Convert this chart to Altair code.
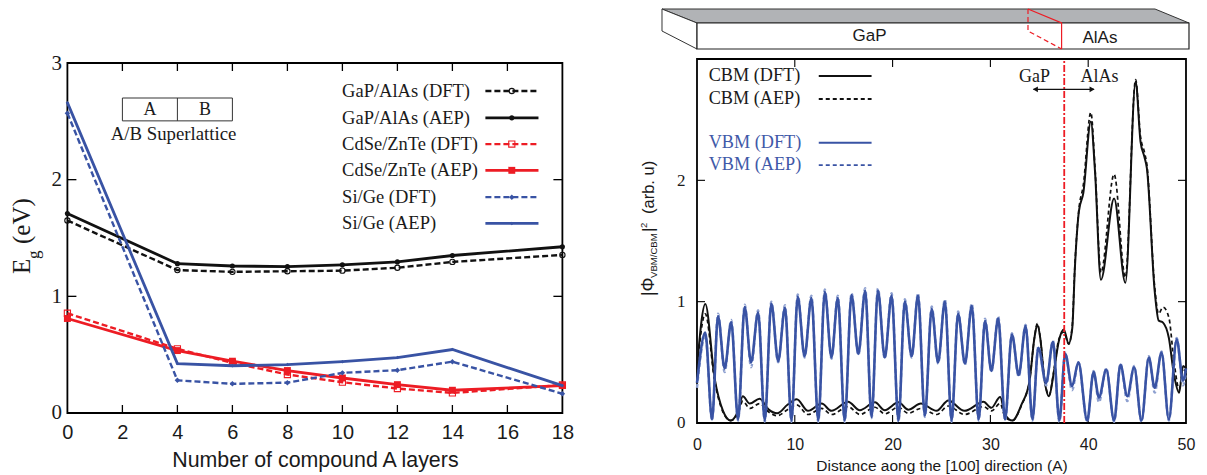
import altair as alt
import pandas as pd

# ---------- left panel data ----------
layers = [0, 4, 6, 8, 10, 12, 14, 18]
gap_dft = [1.65, 1.225, 1.21, 1.215, 1.22, 1.245, 1.295, 1.355]
gap_aep = [1.71, 1.28, 1.26, 1.255, 1.27, 1.295, 1.35, 1.425]
cd_dft = [0.855, 0.55, 0.43, 0.33, 0.264, 0.21, 0.172, 0.24]
cd_aep = [0.81, 0.535, 0.444, 0.364, 0.30, 0.243, 0.195, 0.235]
si_dft = [2.57, 0.28, 0.25, 0.26, 0.344, 0.367, 0.44, 0.165]
si_aep = [2.66, 0.424, 0.405, 0.415, 0.44, 0.475, 0.544, 0.235]

BLACK, RED, BLUE = "#111111", "#ed1c24", "#3953a4"
series_names = ["GaP/AlAs (DFT)", "GaP/AlAs (AEP)", "CdSe/ZnTe (DFT)", "CdSe/ZnTe (AEP)", "Si/Ge (DFT)", "Si/Ge (AEP)"]
series_vals = [gap_dft, gap_aep, cd_dft, cd_aep, si_dft, si_aep]
series_cols = [BLACK, BLACK, RED, RED, BLUE, BLUE]
series_dash = [True, False, True, False, True, False]
series_shape = ["circle", "circle", "square", "square", "diamond", "diamond"]
series_fill = [False, True, False, True, True, True]
series_size = [28, 26, 38, 48, 30, 12]
legend_y = [2.76, 2.53, 2.305, 2.08, 1.85, 1.625]

# ---------- right panel data ----------
vbm_x = [0, 0.85, 1.54, 2.15, 2.83, 3.5, 4.2, 4.88, 5.53, 6.25, 6.93, 7.6, 8.3, 9, 9.66, 10.3, 11, 11.7, 12.4, 13.07,
         13.75, 14.4, 15.1, 15.8, 16.5, 17.2, 17.85, 18.5, 19.2, 19.9, 20.6, 21.25, 21.95, 22.6, 23.3, 24, 24.65, 25.35,
         26.03, 26.7, 27.4, 28.1, 28.8, 29.45, 30.1, 30.8, 31.5, 32.2, 32.9, 33.6, 34.3, 34.9, 35.7, 36.4, 37.05, 37.65,
         38.35, 39.0, 39.9, 40.55, 41.1, 41.85, 42.65, 43.3, 44, 44.7, 45.45, 46.2, 46.8, 47.5, 48.25, 49.05, 49.7, 50]
vbm_dft = [0.33, 0.745, 0.03, 0.88, 0.45, 0.83, 0.03, 0.955, 0.5, 0.91, 0.02, 0.985, 0.51, 0.95, 0.02, 1.04, 0.55, 1.03, 0.02, 1.08,
           0.54, 1.03, 0.02, 1.055, 0.57, 1.09, 0.05, 1.09, 0.54, 1.05, 0.02, 1.0, 0.55, 1.05, 0.06, 0.94, 0.5, 1.0,
           0.02, 0.9, 0.49, 0.965, 0.03, 0.84, 0.43, 0.86, 0.03, 0.73, 0.395, 0.8, 0.03, 0.62, 0.33, 0.67, 0.02, 0.57,
           0.305, 0.5, 0.02, 0.42, 0.21, 0.44, 0.02, 0.48, 0.22, 0.46, 0.02, 0.54, 0.29, 0.58, 0.03, 0.69, 0.35, 0.45]
vbm_aep = [0.29, 0.72, 0.02, 0.9, 0.42, 0.85, 0.02, 0.975, 0.46, 0.93, 0.01, 1.0, 0.5, 0.97, 0.01, 1.06, 0.54, 1.05, 0.01, 1.1,
           0.53, 1.05, 0.01, 1.07, 0.56, 1.11, 0.04, 1.11, 0.53, 1.07, 0.01, 1.02, 0.54, 1.07, 0.05, 0.96, 0.49, 1.02,
           0.01, 0.92, 0.48, 0.985, 0.02, 0.86, 0.42, 0.88, 0.02, 0.74, 0.38, 0.81, 0.02, 0.63, 0.31, 0.68, 0.01, 0.58,
           0.27, 0.5, 0.01, 0.43, 0.17, 0.45, 0.01, 0.49, 0.18, 0.47, 0.01, 0.55, 0.25, 0.59, 0.02, 0.7, 0.31, 0.42]

cbm_x = [0, 0.85, 1.8, 2.66, 3.45, 4.2, 4.68, 5.4, 6.4, 7.34, 8.2, 9.25, 10.2, 11.35, 12.75, 13.75, 15.45, 16.65, 18.2, 19.2,
         20.6, 21.6, 22.9, 24.5, 25.7, 27.35, 29.3, 30.1, 31, 31.5, 32.25, 33.2, 34, 34.5, 34.8, 35.1, 35.5, 36, 36.45, 37,
         37.5, 38, 38.37, 38.64, 39.05, 39.5, 40.27, 40.7, 41.3, 42.65, 43.8, 44.85, 45.35, 45.76, 46, 46.8, 47.2, 47.65,
         48.25, 48.77, 49.3, 49.7, 50]
cbm_dft = [0.456, 0.98, 0.37, 0.1, 0.02, 0.1, 0.22, 0.16, 0.2, 0.11, 0.08, 0.15, 0.195, 0.1, 0.16, 0.1, 0.175, 0.105, 0.17, 0.105,
           0.17, 0.11, 0.16, 0.1, 0.185, 0.1, 0.175, 0.125, 0.215, 0.07, 0.02, 0.155, 0.345, 0.7, 0.81, 0.7, 0.375, 0.22, 0.4, 0.675,
           0.77, 0.655, 0.78, 1.28, 1.745, 1.895, 2.485, 2.07, 1.18, 1.85, 1.155, 2.815, 2.32, 2.19, 2.1, 1.086, 0.845, 0.827,
           0.70, 0.4, 0.25, 0.47, 0.45]
cbm_aep = [0.44, 0.9, 0.35, 0.09, 0.02, 0.08, 0.18, 0.12, 0.16, 0.09, 0.06, 0.11, 0.15, 0.07, 0.12, 0.07, 0.135, 0.07, 0.13, 0.075,
           0.13, 0.08, 0.12, 0.07, 0.14, 0.07, 0.135, 0.1, 0.16, 0.05, 0.02, 0.15, 0.35, 0.7, 0.82, 0.7, 0.38, 0.23, 0.41, 0.69,
           0.75, 0.65, 0.8, 1.3, 1.76, 1.96, 2.56, 2.1, 1.24, 2.05, 1.2, 2.83, 2.36, 2.23, 2.13, 1.12, 0.9, 0.955,
           0.87, 0.51, 0.28, 0.44, 0.42]

# ---------- slab (banner) ----------
side_x = [661, 696, 696, 661, 661]
side_y = [8, 22, 48, 30, 8]
top_x = [661, 1154, 1188, 696, 661]
top_y = [8, 8, 22, 22, 8]
front_x, front_x2, front_y, front_y2 = 696, 1188, 22, 48
red_solid_x = [1027, 1060.6, 1060.6]
red_solid_y = [8, 22, 48]
red_dash_x = [1027, 1027, 1060.6]
red_dash_y = [8, 30, 48]

SERIF = "Liberation Serif"
SANS = "Liberation Sans"
TXT = "#1a1a1a"

LW, LH = 495, 350
RW, RH = 489, 364


def df1(**k):
    return pd.DataFrame(k)


# ================ LEFT ================
lx = alt.Scale(domain=[0, 18], nice=False)
ly = alt.Scale(domain=[0, 3], nice=False)
lax = alt.Axis(values=list(range(0, 19, 2)), format="d", domain=False, ticks=False, grid=False, labelFlush=False,
               labelFont=SANS, labelFontSize=20, labelColor=TXT, labelPadding=10,
               title="Number of compound A layers", titleFont=SANS, titleFontSize=21.4,
               titleFontWeight="normal", titleColor=TXT, titlePadding=7)
lay = alt.Axis(values=[0, 1, 2, 3], format="d", domain=False, ticks=False, grid=False, labelFlush=False,
               labelFont=SERIF, labelFontSize=21, labelColor=TXT, labelPadding=6, title=None)
LX = alt.X("x:Q", scale=lx, axis=lax)
LY = alt.Y("y:Q", scale=ly, axis=lay)
enc_l = dict(x=LX, y=LY)
left_layers = []

# inward ticks
xticks_l = list(range(2, 18, 2))
yticks_l = [1, 2]
left_layers.append(alt.Chart(df1(x=xticks_l)).mark_rule(color="black", strokeWidth=1.3).encode(x=LX, y=alt.value(LH), y2=alt.value(LH - 8)))
left_layers.append(alt.Chart(df1(x=xticks_l)).mark_rule(color="black", strokeWidth=1.3).encode(x=LX, y=alt.value(0), y2=alt.value(8)))
left_layers.append(alt.Chart(df1(y=yticks_l)).mark_rule(color="black", strokeWidth=1.3).encode(y=LY, x=alt.value(0), x2=alt.value(9)))
left_layers.append(alt.Chart(df1(y=yticks_l)).mark_rule(color="black", strokeWidth=1.3).encode(y=LY, x=alt.value(LW), x2=alt.value(LW - 9)))

for name, vals, col, dash, shape, fill, size, ly_row in zip(series_names, series_vals, series_cols, series_dash, series_shape, series_fill, series_size, legend_y):
    d = df1(x=layers, y=vals)
    line_kw = dict(color=col, strokeWidth=2.8 if not dash else 2.4)
    if dash:
        line_kw["strokeDash"] = [6, 3]
    pt_kw = dict(shape=shape, size=size, color=col, filled=fill, strokeWidth=1.1, opacity=1)
    left_layers.append(alt.Chart(d).mark_line(**line_kw).encode(**enc_l))
    left_layers.append(alt.Chart(d).mark_point(**pt_kw).encode(**enc_l))
    # legend
    sample = df1(x=[15.2, 17.13], y=[ly_row, ly_row])
    left_layers.append(alt.Chart(sample).mark_line(**line_kw).encode(**enc_l))
    left_layers.append(alt.Chart(df1(x=[16.16], y=[ly_row])).mark_point(**pt_kw).encode(**enc_l))
    left_layers.append(alt.Chart(df1(x=[9.99], y=[ly_row], t=[name])).mark_text(align="left", baseline="middle", font=SERIF, fontSize=18.5, color=TXT).encode(text="t:N", **enc_l))

# superlattice box
left_layers.append(alt.Chart(df1(x=[2], x2=[6], y=[2.504], y2=[2.70])).mark_rect(fill="white", stroke="#333333", strokeWidth=1).encode(x2="x2:Q", y2="y2:Q", **enc_l))
left_layers.append(alt.Chart(df1(x=[4], y=[2.504], y2=[2.70])).mark_rule(color="#333333", strokeWidth=1).encode(y2="y2:Q", **enc_l))
left_layers.append(alt.Chart(df1(x=[3, 5], y=[2.6, 2.6], t=["A", "B"])).mark_text(font=SERIF, fontSize=18, color=TXT).encode(text="t:N", **enc_l))
left_layers.append(alt.Chart(df1(x=[3.86], y=[2.395], t=["A/B Superlattice"])).mark_text(font=SERIF, fontSize=18.8, color=TXT).encode(text="t:N", **enc_l))

# y title pieces
for t, px, py, fs in [("E", -45, 211, 25), ("g", -33, 196, 17), ("(eV)", -45, 181, 25)]:
    left_layers.append(alt.Chart(df1(t=[t])).mark_text(align="left", baseline="middle", angle=270, font=SERIF, fontSize=fs, color=TXT).encode(text="t:N", x=alt.value(px), y=alt.value(py)))

left = alt.layer(*left_layers).properties(width=LW, height=LH, view=alt.ViewConfig(stroke="black", strokeWidth=1.8))

# ================ RIGHT ================
rx = alt.Scale(domain=[0, 50], nice=False)
ry = alt.Scale(domain=[0, 3], nice=False)
rax = alt.Axis(values=[0, 10, 20, 30, 40, 50], format="d", domain=False, ticks=False, grid=False, labelFlush=False,
               labelFont=SANS, labelFontSize=16, labelColor=TXT, labelPadding=14,
               title="Distance aong the [100] direction (A)", titleFont=SANS, titleFontSize=15.5,
               titleFontWeight="normal", titleColor=TXT, titlePadding=6)
ray = alt.Axis(values=[0, 1, 2], format="d", domain=False, ticks=False, grid=False, labelFlush=False,
               labelFont=SERIF, labelFontSize=17, labelColor=TXT, labelPadding=12, title=None)
RX = alt.X("x:Q", scale=rx, axis=rax)
RY = alt.Y("y:Q", scale=ry, axis=ray)
enc_r = dict(x=RX, y=RY)
right_layers = []
xt_r = [10, 20, 30, 40]
yt_r = [1, 2]
right_layers.append(alt.Chart(df1(x=xt_r)).mark_rule(color="black", strokeWidth=1.1).encode(x=RX, y=alt.value(RH), y2=alt.value(RH - 8)))
right_layers.append(alt.Chart(df1(x=xt_r)).mark_rule(color="black", strokeWidth=1.1).encode(x=RX, y=alt.value(0), y2=alt.value(8)))
right_layers.append(alt.Chart(df1(y=yt_r)).mark_rule(color="black", strokeWidth=1.1).encode(y=RY, x=alt.value(0), x2=alt.value(8)))
right_layers.append(alt.Chart(df1(y=yt_r)).mark_rule(color="black", strokeWidth=1.1).encode(y=RY, x=alt.value(RW), x2=alt.value(RW - 8)))

DASH = [4, 3]
right_layers.append(alt.Chart(df1(x=cbm_x, y=cbm_aep)).mark_line(color=BLACK, strokeWidth=1.7, strokeDash=DASH, interpolate="monotone").encode(**enc_r))
right_layers.append(alt.Chart(df1(x=cbm_x, y=cbm_dft)).mark_line(color=BLACK, strokeWidth=2.0, interpolate="monotone").encode(**enc_r))
right_layers.append(alt.Chart(df1(x=vbm_x, y=vbm_aep)).mark_line(color="#8ea0d0", strokeWidth=2.4, strokeDash=DASH, interpolate="monotone").encode(**enc_r))
right_layers.append(alt.Chart(df1(x=vbm_x, y=vbm_dft)).mark_line(color=BLUE, strokeWidth=2.6, interpolate="monotone").encode(**enc_r))

# interface line
right_layers.append(alt.Chart(df1(x=[37.55], y=[0], y2=[3])).mark_rule(color=RED, strokeWidth=1.8, strokeDash=[7, 2, 2, 2]).encode(y2="y2:Q", **enc_r))

# legend
leg_names = ["CBM (DFT)", "CBM (AEP)", "VBM (DFT)", "VBM (AEP)"]
leg_y = [2.86, 2.67, 2.31, 2.125]
leg_col = [BLACK, BLACK, BLUE, BLUE]
leg_dash = [False, True, False, True]
leg_txt = [TXT, TXT, "#3f59a8", "#3f59a8"]
for n, yy, c, ds, tc in zip(leg_names, leg_y, leg_col, leg_dash, leg_txt):
    kw = dict(color=c, strokeWidth=1.9)
    if ds:
        kw["strokeDash"] = DASH
    right_layers.append(alt.Chart(df1(x=[12.45, 17.85], y=[yy, yy])).mark_line(**kw).encode(**enc_r))
    right_layers.append(alt.Chart(df1(x=[1.2], y=[yy], t=[n])).mark_text(align="left", baseline="middle", font=SERIF, fontSize=18.2, color=tc).encode(text="t:N", **enc_r))

# GaP / AlAs arrows
right_layers.append(alt.Chart(df1(x=[34.5, 41.15], y=[2.85, 2.85], t=["GaP", "AlAs"])).mark_text(font=SERIF, fontSize=18, color=TXT).encode(text="t:N", **enc_r))
right_layers.append(alt.Chart(df1(x=[34.4, 40.6], y=[2.75, 2.75])).mark_line(color=BLACK, strokeWidth=1.2).encode(**enc_r))
right_layers.append(alt.Chart(df1(x=[34.6], y=[2.75])).mark_point(shape="triangle-left", filled=True, size=34, color=BLACK, opacity=1).encode(**enc_r))
right_layers.append(alt.Chart(df1(x=[40.4], y=[2.75])).mark_point(shape="triangle-right", filled=True, size=34, color=BLACK, opacity=1).encode(**enc_r))

# y title pieces
for t, px, py, fs in [("|Φ", -47.5, 237, 17.5), ("VBM/CBM", -43, 219, 9.6), ("|", -47.5, 173, 17), ("2", -53, 169, 9.5), ("(arb. u)", -47.5, 155, 16.5)]:
    right_layers.append(alt.Chart(df1(t=[t])).mark_text(align="left", baseline="middle", angle=270, font=SANS, fontSize=fs, color=TXT).encode(text="t:N", x=alt.value(px), y=alt.value(py)))

right = alt.layer(*right_layers).properties(width=RW, height=RH, view=alt.ViewConfig(stroke="black", strokeWidth=1.8))

# ================ BANNER ================
bx = alt.Scale(domain=[696, 1185], nice=False)
by = alt.Scale(domain=[58, 8], nice=False)
enc_b = dict(x=alt.X("x:Q", scale=bx, axis=None), y=alt.Y("y:Q", scale=by, axis=None), order="o:Q")
enc_b2 = dict(x=alt.X("x:Q", scale=bx, axis=None), y=alt.Y("y:Q", scale=by, axis=None))
banner_layers = [
    alt.Chart(df1(x=top_x, y=top_y, o=list(range(5)))).mark_line(fill="#b1b3b6", stroke="#333333", strokeWidth=1).encode(**enc_b),
    alt.Chart(df1(x=side_x, y=side_y, o=list(range(5)))).mark_line(fill="white", stroke="#333333", strokeWidth=1).encode(**enc_b),
    alt.Chart(df1(x=[front_x], x2=[front_x2], y=[front_y], y2=[front_y2])).mark_rect(fill="white", stroke="#222222", strokeWidth=1.2).encode(x2="x2:Q", y2="y2:Q", **enc_b2),
    alt.Chart(df1(x=red_solid_x, y=red_solid_y, o=[0, 1, 2])).mark_line(color=RED, strokeWidth=1.2).encode(**enc_b),
    alt.Chart(df1(x=red_dash_x, y=red_dash_y, o=[0, 1, 2])).mark_line(color=RED, strokeWidth=1.2, strokeDash=[5, 3]).encode(**enc_b),
    alt.Chart(df1(x=[868.6, 1099], y=[35, 37], t=["GaP", "AlAs"])).mark_text(font=SANS, fontSize=17, color=TXT).encode(text="t:N", **enc_b2),
]
banner = alt.layer(*banner_layers).properties(width=RW, height=50, view=alt.ViewConfig(stroke=None))


def spacer(w, h):
    return alt.Chart(df1(a=[0])).mark_point(opacity=0).encode(x=alt.value(w / 2), y=alt.value(h / 2)).properties(width=w, height=h, view=alt.ViewConfig(stroke=None))


left_col = alt.vconcat(spacer(LW, 54), left, spacing=0, bounds="flush")
right_col = alt.vconcat(banner, right, spacing=0, bounds="flush")
chart = alt.hconcat(left_col, right_col, spacing=62.6, bounds="full").properties(
    padding={"left": 1.4, "top": -2, "right": 2, "bottom": 0},
    background="white",
)
chart.save("out.html", embed_options={"renderer": "svg", "actions": False})
